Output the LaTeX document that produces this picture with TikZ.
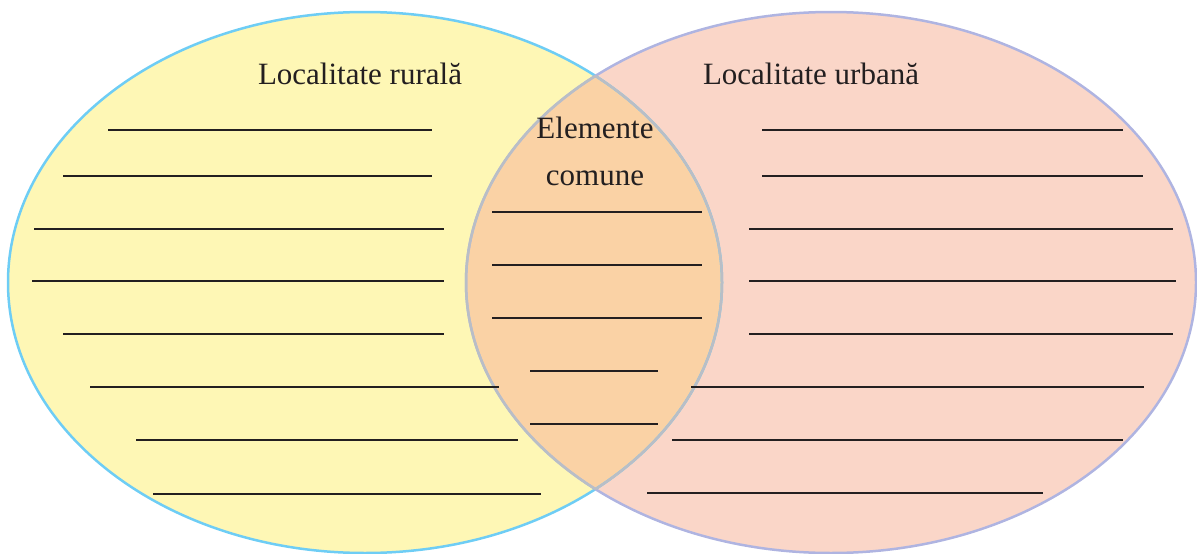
\documentclass[tikz,border=0pt]{standalone}
\usepackage{fontspec}
\setmainfont{Liberation Serif}

\definecolor{ruralfill}{RGB}{254,247,181}
\definecolor{ruraledge}{RGB}{110,205,245}
\definecolor{urbanfill}{RGB}{250,214,200}
\definecolor{urbanedge}{RGB}{175,180,225}
\definecolor{bothfill}{RGB}{250,210,165}
\definecolor{bothedge}{RGB}{185,190,198}
\definecolor{ink}{RGB}{35,31,32}

\begin{document}
\begin{tikzpicture}[x=1pt, y=-1pt,
    blank/.style = {draw=ink, line width=2pt},
    title/.style = {text=ink, font=\fontsize{31}{47}\selectfont, inner sep=0pt, anchor=base},
    edge/.style = {line width=2.5pt}]
\useasboundingbox (0,0) rectangle (1197,554);
% the two sets
\def\rural{(365,282.5) ellipse [x radius=357, y radius=270.5]}
\def\urban{(831,282.5) ellipse [x radius=365, y radius=270.5]}
\fill[ruralfill] \rural;
\fill[urbanfill] \urban;
\begin{scope}
  \clip \rural;
  \fill[bothfill] \urban;
\end{scope}
\draw[edge, ruraledge] \rural;
\draw[edge, urbanedge] \urban;
\begin{scope}
  \clip \urban;
  \draw[edge, bothedge] \rural;
\end{scope}
\begin{scope}
  \clip \rural;
  \draw[edge, bothedge] \urban;
\end{scope}

% titles
\node[title] (rur) at (360,84) {Localitate rurală};
\node[title] (urb) at (811,84) {Localitate urbană};
\node[title, align=center] (com) at (595,185) {Elemente\\comune};

% blanks to fill in
\foreach \y/\a/\b in {130/108/432, 176/63/432, 229/34/444, 281/32/444,
    334/63/444, 387/90/499, 440/136/518, 494/153/541}
  \draw[blank] (\a,\y) -- (\b,\y);
\foreach \y/\a/\b in {212/492/702, 265/492/702, 318/492/702,
    371/530/658, 424/530/658}
  \draw[blank] (\a,\y) -- (\b,\y);
\foreach \y/\a/\b in {130/762/1123, 176/762/1143, 229/749/1173, 281/749/1176,
    334/749/1173, 387/691/1144, 440/672/1123, 493/647/1043}
  \draw[blank] (\a,\y) -- (\b,\y);
\end{tikzpicture}
\end{document}
